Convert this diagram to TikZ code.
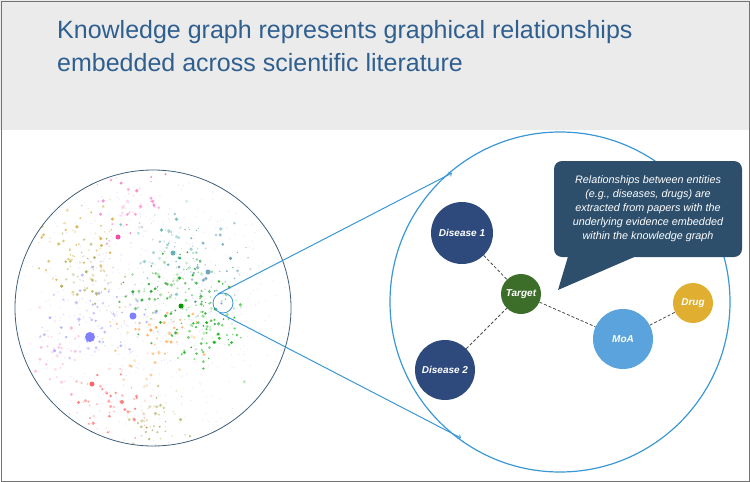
\documentclass[tikz,border=0pt]{standalone}
\usepackage{fontspec}
\setmainfont{Liberation Sans}
\definecolor{titleblue}{HTML}{2F5F8F}
\definecolor{dblue}{HTML}{2E4A7C}
\definecolor{tgreen}{HTML}{3C6E2A}
\definecolor{moa}{HTML}{5AA3DC}
\definecolor{drug}{HTML}{E0AE30}
\definecolor{callout}{HTML}{2D4F6C}
\definecolor{zoomline}{HTML}{3B97D3}
\definecolor{bandgray}{HTML}{EBEBEB}
\definecolor{bigring}{HTML}{3E5F7A}
\tikzset{
  ent/.style={circle,inner sep=0pt,text=white,font=\bfseries\itshape\fontsize{10}{11}\selectfont},
  rel/.style={densely dashed,draw=black!70,thick},
  zl/.style={draw=zoomline,line width=1pt},
}
\begin{document}
\begin{tikzpicture}[x=1pt,y=-1pt]
\useasboundingbox (0,0) rectangle (750,482);
\fill[bandgray] (0,0) rectangle (750,130);
\draw[black!55,line width=1pt] (1,1) rectangle (749,481);
\node[anchor=north west,align=left,text=titleblue,font=\fontsize{25}{33}\selectfont,inner sep=0pt] (title) at (57,20) {Knowledge graph represents graphical relationships\\embedded across scientific literature};
% scatter
\pgfmathsetseed{7}
\begin{scope}
\clip (153,308) circle (138);
\foreach \i in {1,...,500}{
  \pgfmathsetmacro{\dx}{110*(rand+rand)/1.4}
  \pgfmathsetmacro{\dy}{110*(rand+rand)/1.4}
  \fill[blue!30,opacity=0.25] (153+\dx,308+\dy) circle (0.8);
}
\foreach \cx/\cy/\col/\n/\s in {
  80/245/yellow!50!orange!80!black/70/30, 130/210/magenta!60/50/30, 175/250/teal!70/60/30,
  180/300/green!60!black/140/40, 100/320/blue!40/90/35, 110/400/red!60/60/30,
  160/420/yellow!60!black/50/25, 210/330/green!70!black/60/30, 150/340/orange!80/60/35,
  60/350/pink!80!magenta/40/25, 215/265/cyan!60!black/40/30, 90/270/yellow!60!black/50/25}{
  \foreach \i in {1,...,\n}{
    \pgfmathsetmacro{\dx}{\s*(rand+rand+rand)/1.5}
    \pgfmathsetmacro{\dy}{\s*(rand+rand+rand)/1.5}
    \pgfmathsetmacro{\rr}{0.5+1.4*rnd}
    \pgfmathsetmacro{\op}{0.2+0.6*rnd}
    \fill[\col,opacity=\op] (\cx+\dx,\cy+\dy) circle (\rr);
  }}
\fill[blue!50] (90,337) circle (5);
\fill[blue!50] (133,316) circle (3.5);
\fill[magenta!70] (118,237) circle (2.5);
\fill[teal!60] (173,253) circle (2.5);
\fill[cyan!60!black!70] (208,272) circle (2.5);
\fill[red!60] (92,384) circle (2.5);
\fill[red!50] (122,402) circle (2);
\fill[green!60!black] (181,306) circle (2.5);
\end{scope}
\node[circle,draw=bigring,line width=0.8pt,minimum size=276pt,inner sep=0pt] (big) at (153,308) {};
\node[circle,draw=zoomline,line width=0.8pt,minimum size=20pt,inner sep=0pt] (lens) at (223,303) {};
\node[circle,draw=zoomline,line width=1.2pt,minimum size=340pt,inner sep=0pt] (zoom) at (560,302) {};
\coordinate (zt) at (452,173);
\coordinate (zb) at (461,438);
\draw[zl,->] (lens.120) -- (zt);
\draw[zl,->] (lens.-110) -- (zb);
% entities
\node[ent,fill=dblue,minimum size=62pt] (d1) at (462,233) {Disease 1};
\node[ent,fill=tgreen,minimum size=40pt] (t) at (521,294) {Target};
\node[ent,fill=dblue,minimum size=60pt] (d2) at (445,370) {Disease 2};
\node[ent,fill=moa,minimum size=60pt] (m) at (623,339) {MoA};
\node[ent,fill=drug,minimum size=40pt] (dr) at (693,303) {Drug};
\draw[rel] (d1) -- (t);
\draw[rel] (d2) -- (t);
\draw[rel] (t) -- (m);
\draw[rel] (m) -- (dr);
% callout
\node[fill=callout,rounded corners=8pt,minimum width=188pt,minimum height=96pt,inner sep=2pt,text=white,align=center,font=\itshape\fontsize{10.8}{14}\selectfont] (call) at (648,209) {Relationships between entities\\(e.g., diseases, drugs) are\\extracted from papers with the\\underlying evidence embedded\\within the knowledge graph};
\coordinate (tip) at (558,290);
\fill[callout] ([xshift=14pt]call.south west) -- (tip) -- ([xshift=80pt]call.south west) -- cycle;
\end{tikzpicture}
\end{document}
